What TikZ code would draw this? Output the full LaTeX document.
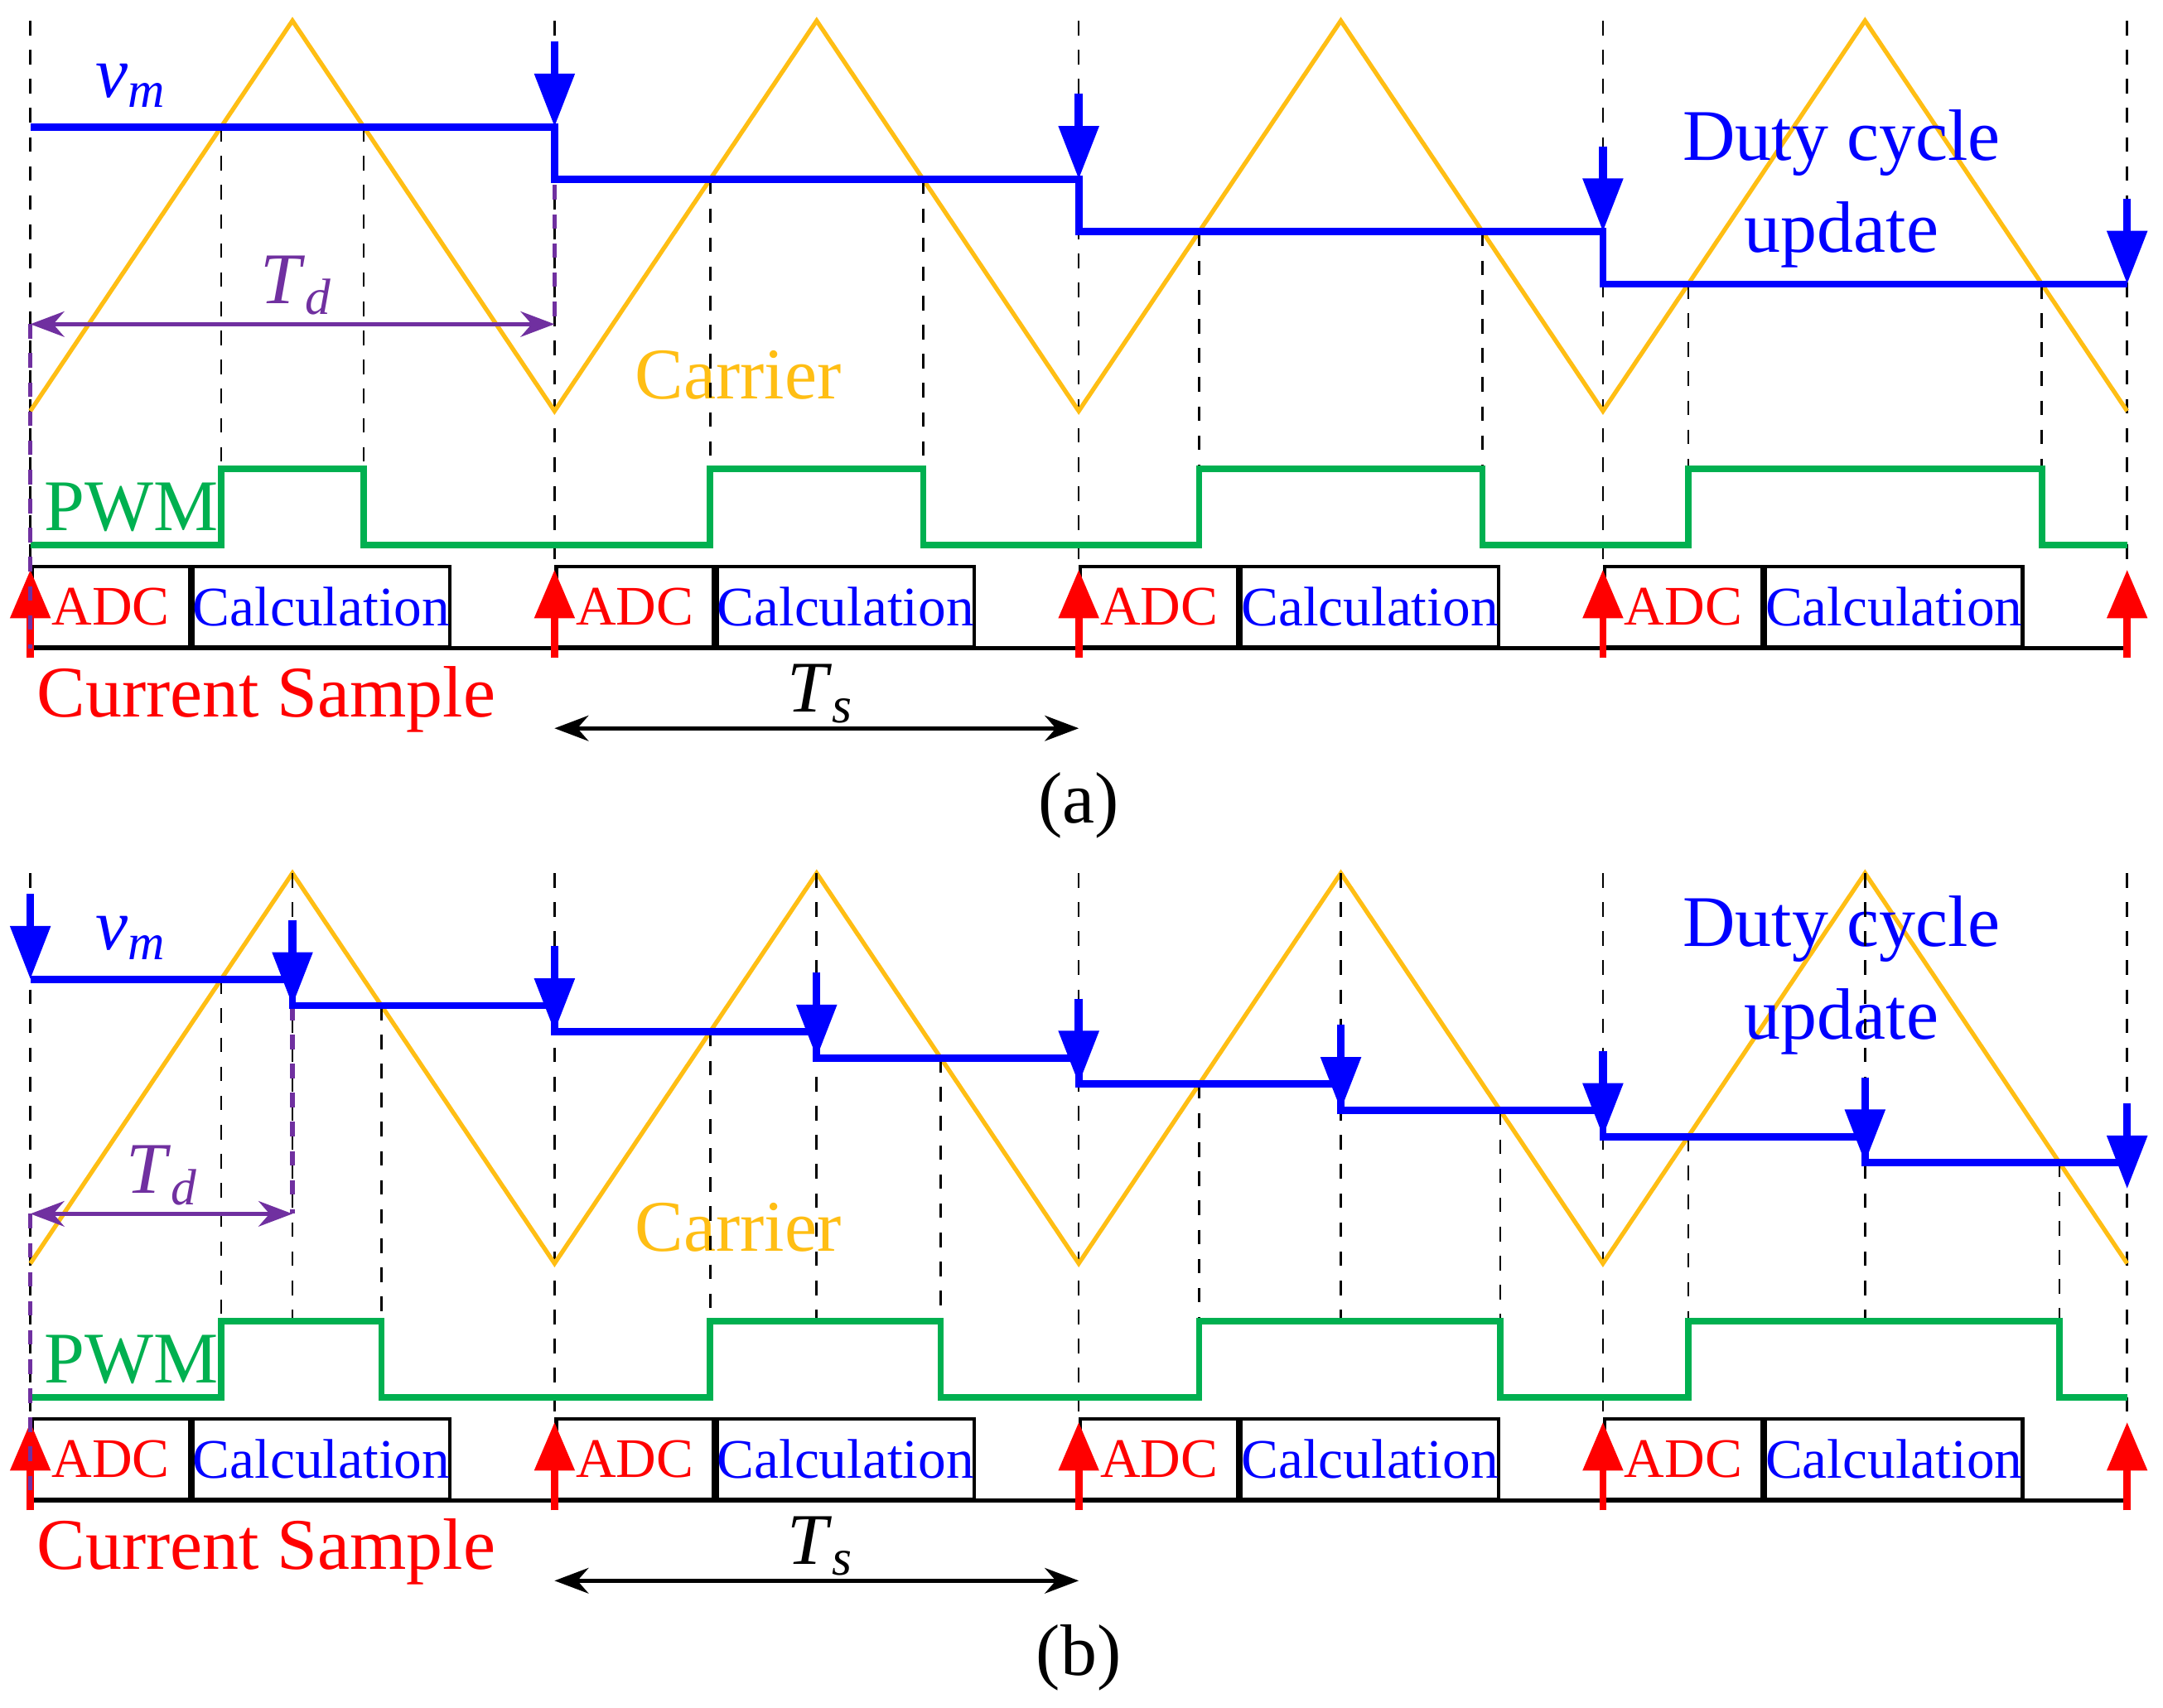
\documentclass[tikz,border=0pt]{standalone}
\usepackage{fontspec}
\setmainfont{Liberation Serif}
\usetikzlibrary{arrows.meta}
\definecolor{cblue}{RGB}{0,0,255}
\definecolor{corange}{RGB}{255,190,20}
\definecolor{cgreen}{RGB}{0,176,80}
\definecolor{cpurple}{RGB}{112,48,160}
\definecolor{cred}{RGB}{255,0,0}
\newcommand\itsub[2]{\textit{#1}\textsubscript{\textit{#2}}}
\tikzset{
 vm/.style={cblue,line width=1.5pt},
 carrier/.style={corange,line width=0.9pt},
 pwm/.style={cgreen,line width=1.3pt},
 dsh/.style={black,dashed,line width=0.45pt},
 pdsh/.style={cpurple,dashed,line width=0.9pt},
 upd/.style={cblue,line width=1.6pt,-{Triangle[length=11pt,width=8pt]}},
 smp/.style={cred,line width=1.5pt,-{Triangle[length=10pt,width=8pt]}},
 box/.style={draw,line width=0.7pt,minimum height=0.58cm,inner sep=0pt,anchor=south west,font=\fontsize{11.5}{12}\selectfont},
 dim/.style={line width=0.8pt,{Stealth[length=7pt]}-{Stealth[length=7pt]}},
 lbl/.style={font=\fontsize{15}{16}\selectfont,inner sep=0pt}
}
\begin{document}
\begin{tikzpicture}[x=0.01cm,y=-0.01cm]
\useasboundingbox (0,0) rectangle (1568,1238);
\foreach \oy/\lab/\dy in {0/a/137,618/b/89}{
\begin{scope}[shift={(0,\oy)}]
 \foreach \x in {22,402,782,1162,1542} \draw[dsh] (\x,15) -- (\x,470);
 \draw[carrier] (22,298) -- (212,15) -- (402,298) -- (592,15) -- (782,298) -- (972,15) -- (1162,298) -- (1352,15) -- (1542,298);
 \draw[line width=0.8pt] (22,470) -- (1542,470);
 \foreach \k in {0,1,2,3}{
   \node[box,minimum width=1.14cm,text=cred] (adc\lab\k) at (22+380*\k,470) {ADC};
   \node[box,minimum width=1.86cm,text=cblue] (calc\lab\k) at (adc\lab\k.south east) {Calculation};
 }
 \foreach \x in {22,402,782,1162,1542} \draw[smp] (\x,477) -- (\x,413);
 \node[lbl,text=cred] (cs\lab) at (193,507) {Current Sample};
 \coordinate (tsl\lab) at (402,528); \coordinate (tsr\lab) at (782,528);
 \draw[dim] (tsl\lab) -- (tsr\lab);
 \node[lbl] (ts\lab) at (595,503) {\itsub{T}{s}};
 \node[lbl] (cap\lab) at (782,584) {(\lab)};
 \node[lbl,text=corange] (car\lab) at (535,272) {Carrier};
 \node[lbl,text=cgreen] (pwml\lab) at (95,368) {PWM};
 \node[lbl,text=cblue] (vml\lab) at (95,62) {\itsub{v}{m}};
 \node[lbl,text=cblue,align=center,font=\fontsize{15}{19}\selectfont] (duty\lab) at (1335,\dy) {Duty cycle\\update};
\end{scope}}
% ---------- panel (a) ----------
\foreach \x/\y in {160.3/92,263.7/92,514.8/130,669.2/130,869.3/168,1074.7/168,1223.8/206,1480.2/206}
  \draw[dsh] (\x,\y) -- (\x,340);
\draw[pwm] (22,395) -- (160.3,395) -- (160.3,340) -- (263.7,340) -- (263.7,395) -- (514.8,395) -- (514.8,340) -- (669.2,340) -- (669.2,395) -- (869.3,395) -- (869.3,340) -- (1074.7,340) -- (1074.7,395) -- (1223.8,395) -- (1223.8,340) -- (1480.2,340) -- (1480.2,395) -- (1542,395);
\draw[pdsh] (402,92) -- (402,235);
\draw[pdsh] (22,235) -- (22,470);
\coordinate (tda1) at (22,235); \coordinate (tda2) at (402,235);
\draw[dim,cpurple] (tda1) -- (tda2);
\node[lbl,text=cpurple] (tda) at (215,207) {\itsub{T}{d}};
\draw[vm] (22,92) -- (402,92) -- (402,130) -- (782,130) -- (782,168) -- (1162,168) -- (1162,206) -- (1542,206);
\foreach \x/\y in {402/92,782/130,1162/168,1542/206} \draw[upd] (\x,\y-62) -- (\x,\y);
% ---------- panel (b) ----------
\begin{scope}[shift={(0,618)}]
\foreach \x/\y in {160.3/92,212/15,276.5/111,514.8/130,592/15,682/149,869.3/168,972/15,1087.5/187,1223.8/206,1352/15,1493/225}
  \draw[dsh] (\x,\y) -- (\x,340);
\draw[pwm] (22,395) -- (160.3,395) -- (160.3,340) -- (276.5,340) -- (276.5,395) -- (514.8,395) -- (514.8,340) -- (682,340) -- (682,395) -- (869.3,395) -- (869.3,340) -- (1087.5,340) -- (1087.5,395) -- (1223.8,395) -- (1223.8,340) -- (1493,340) -- (1493,395) -- (1542,395);
\draw[pdsh] (212,111) -- (212,262);
\draw[pdsh] (22,262) -- (22,470);
\coordinate (tdb1) at (22,262); \coordinate (tdb2) at (212,262);
\draw[dim,cpurple] (tdb1) -- (tdb2);
\node[lbl,text=cpurple] (tdb) at (118,234) {\itsub{T}{d}};
\draw[vm] (22,92) -- (212,92) -- (212,111) -- (402,111) -- (402,130) -- (592,130) -- (592,149) -- (782,149) -- (782,168) -- (972,168) -- (972,187) -- (1162,187) -- (1162,206) -- (1352,206) -- (1352,225) -- (1542,225);
\foreach \x/\y in {22/92,212/111,402/130,592/149,782/168,972/187,1162/206,1352/225,1542/244} \draw[upd] (\x,\y-62) -- (\x,\y);
\end{scope}
\end{tikzpicture}
\end{document}
